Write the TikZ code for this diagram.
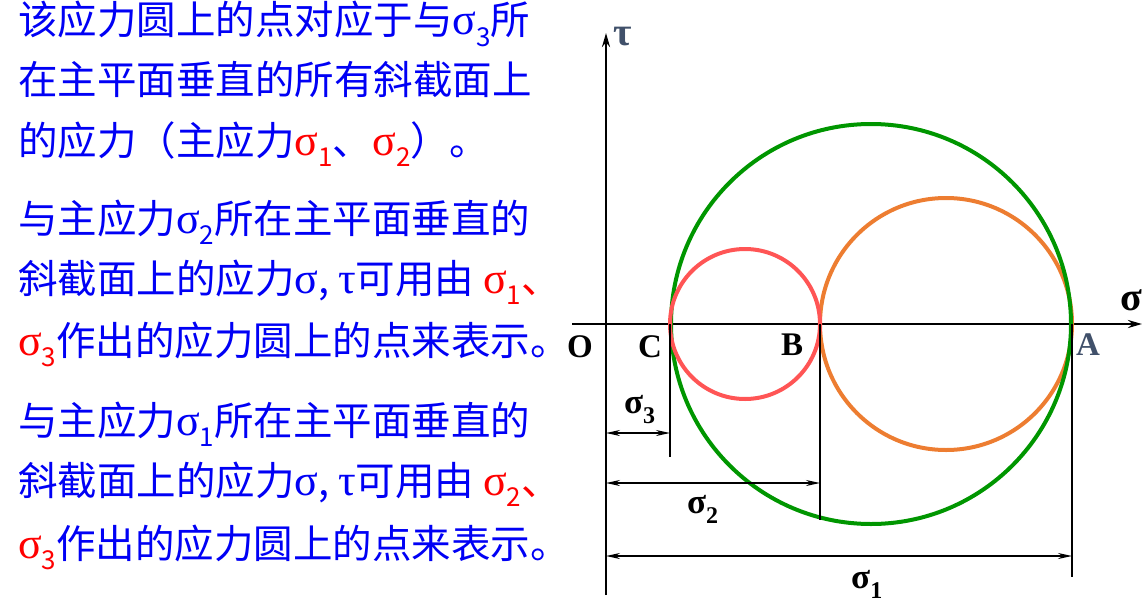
\documentclass[tikz,border=0pt]{standalone}
\usepackage{fontspec}
\setmainfont{Liberation Serif}
\newfontfamily\cjk{Noto Sans CJK SC}
\usetikzlibrary{positioning,arrows.meta}

\definecolor{txtblue}{RGB}{0,0,245}
\definecolor{slate}{RGB}{64,80,106}
\definecolor{circgreen}{RGB}{0,150,0}
\definecolor{circorange}{RGB}{237,125,49}
\definecolor{circred}{RGB}{255,85,85}

\newcommand{\lowidx}[1]{\raisebox{-0.3em}{\fontsize{26}{26}\selectfont #1}}
\newcommand{\sg}{{\rmfamily\fontsize{44}{40}\selectfont σ}}
\newcommand{\tu}{{\rmfamily\fontsize{44}{40}\selectfont τ}}
\newcommand{\rsg}[1]{\textcolor{red}{\sg\lowidx{#1}}}
\newcommand{\dimsg}[1]{σ\raisebox{-0.3em}{\fontsize{24}{24}\selectfont #1}}

\begin{document}
\begin{tikzpicture}[x=1pt,y=-1pt,
txtline/.style={anchor=base west, inner sep=0pt, text=txtblue, font=\cjk\fontsize{39.5}{40}\selectfont},
ptname/.style={inner sep=0pt, font=\bfseries\fontsize{33}{33}\selectfont},
dimtxt/.style={anchor=base west, inner sep=0pt, font=\bfseries\fontsize{35}{35}\selectfont},
axis/.style={line width=2.5pt, -{Stealth[length=14pt,width=8pt]}},
extline/.style={line width=1.6pt},
dimline/.style={line width=1.6pt, {Stealth[length=14pt,width=6pt]}-{Stealth[length=14pt,width=6pt]}},
circ/.style={line width=4pt}]

\useasboundingbox (0,0) rectangle (1142,610);

% text on the left
\node[txtline] (t1) at (18,35) {该应力圆上的点对应于与\sg\lowidx{3}所};
\node[txtline] (t2) at (18,94) {在主平面垂直的所有斜截面上};
\node[txtline] (t3) at (18,155) {的应力（主应力\rsg{1}、\rsg{2}）。};

\node[txtline] (t4) at (18,233) {与主应力\sg\lowidx{2}所在主平面垂直的};
\node[txtline] (t5) at (18,293) {斜截面上的应力\sg, \tu{}可用由 \textcolor{red}{\sg\lowidx{1}、}};
\node[txtline] (t6) at (18,355) {\rsg{3}作出的应力圆上的点来表示。};

\node[txtline] (t7) at (18,435) {与主应力\sg\lowidx{1}所在主平面垂直的};
\node[txtline] (t8) at (18,495) {斜截面上的应力\sg, \tu{}可用由 \textcolor{red}{\sg\lowidx{2}、}};
\node[txtline] (t9) at (18,558) {\rsg{3}作出的应力圆上的点来表示。};

% axes
\coordinate (xs) at (572,324);
\coordinate (xe) at (1142,324);
\coordinate (ys) at (606,595);
\coordinate (ye) at (606,33);
\draw[axis] (xs) -- (xe);
\draw[axis] (ys) -- (ye);
\node[ptname, text=slate, font=\bfseries\fontsize{40}{40}\selectfont] (tau) at (623,37) {τ};
\node[ptname, font=\bfseries\fontsize{40}{40}\selectfont] (sig) at (1131,300) {σ};

% points on the axis
\coordinate (O) at (606,324);
\coordinate (C) at (670,324);
\coordinate (B) at (820,324);
\coordinate (A) at (1072,324);
\node[ptname] (Olab) at (580,347) {O};
\node[ptname] (Clab) at (650,347) {C};
\node[ptname] (Blab) at (792,345) {B};
\node[ptname, text=slate] (Alab) at (1088,345) {A};

% circles
\draw[circ, circorange] (946,324) circle [radius=126pt];
\draw[circ, circgreen] (871,324) circle [radius=200pt];
\draw[circ, circred] (745,324) circle [radius=75pt];

% extension lines
\coordinate (Cend) at (670,457);
\coordinate (Bend) at (820,520);
\coordinate (Aend) at (1072,577);
\draw[extline] (C) -- (Cend);
\draw[extline] (B) -- (Bend);
\draw[extline] (A) -- (Aend);

% dimensions
\draw[dimline] (O |- 0,433) -- (C |- 0,433);
\draw[dimline] (O |- 0,483) -- (B |- 0,483);
\draw[dimline] (O |- 0,556) -- (A |- 0,556);
\node[dimtxt] (s3) at (624,413) {\dimsg{3}};
\node[dimtxt] (s2) at (687,513) {\dimsg{2}};
\node[dimtxt] (s1) at (851,588) {\dimsg{1}};
\end{tikzpicture}
\end{document}
